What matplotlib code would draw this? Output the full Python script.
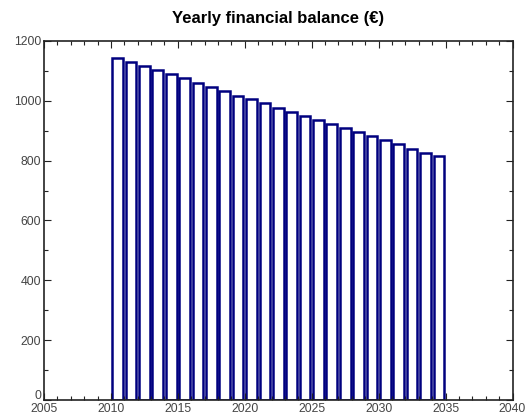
import matplotlib
matplotlib.use("Agg")
import matplotlib.pyplot as plt
import matplotlib.transforms as mtransforms
from matplotlib.ticker import MultipleLocator

plt.rcParams['font.family'] = ['Liberation Sans', 'DejaVu Sans']

# Yearly balance, one bar per year
years = [2010.5 + i for i in range(25)]
balance = [1142, 1130, 1115, 1102, 1090, 1075, 1060, 1047, 1033, 1016,
           1005, 992, 977, 964, 949, 936, 924, 910, 896, 883,
           868, 855, 840, 827, 814]
title = "Yearly financial balance (€)"

fig = plt.figure(figsize=(5.28, 4.16), dpi=100)
ax = fig.add_axes([44 / 528, 16 / 416, (512.5 - 44) / 528, (400 - 41) / 416])

ax.bar(years, balance, width=0.8, facecolor='white', edgecolor='#00007f',
       linewidth=1.8)

ax.set_xlim(2005, 2040)
ax.set_ylim(0, 1200)
ax.xaxis.set_major_locator(MultipleLocator(5))
ax.xaxis.set_minor_locator(MultipleLocator(1))
ax.yaxis.set_major_locator(MultipleLocator(200))
ax.yaxis.set_minor_locator(MultipleLocator(100))
ax.tick_params(which='both', direction='in', top=True, right=True,
               labelsize=8.8, labelcolor='#444444', color='#222222')
ax.tick_params(axis='x', pad=2)
ax.tick_params(axis='y', pad=2)
ax.tick_params(which='major', length=5, width=0.8)
ax.tick_params(which='minor', length=3, width=0.8)
for s in ax.spines.values():
    s.set_linewidth(1.2)
    s.set_color('#222222')

ax.set_title(title, fontsize=12, fontweight='bold', pad=13)

# lift the "0" label a little so it clears the first year label
fig.canvas.draw()
lift = mtransforms.ScaledTranslation(0, 4 / 72, fig.dpi_scale_trans)
for lbl in ax.get_yticklabels():
    if lbl.get_text() == '0':
        lbl.set_transform(lbl.get_transform() + lift)

fig.savefig("out.png", dpi=100)
